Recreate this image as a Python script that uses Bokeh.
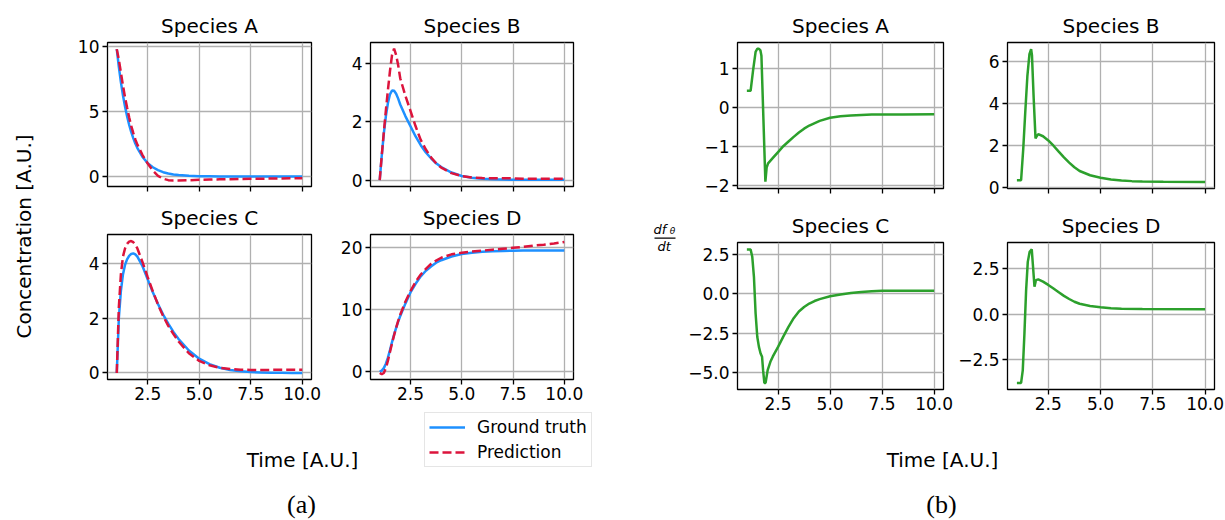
from bokeh.plotting import figure
from bokeh.models import (Range1d, FixedTicker, CustomJSTickFormatter, Label,
                          Legend, LegendItem, BoxAnnotation)
from bokeh.layouts import row, column
from bokeh.embed import file_html
from bokeh.resources import INLINE

FONT = "DejaVu Sans"
BLUE = "#1e90ff"
RED = "#dc143c"
GREEN = "#2ca02c"

# ---------------- data ----------------
TITLES = ["Species A", "Species B", "Species C", "Species D"]
X_LABEL = "Time [A.U.]"
Y_LABEL = "Concentration [A.U.]"
LEGEND_LABELS = ["Ground truth", "Prediction"]
CAPTIONS = ["(a)", "(b)"]
X_TICKS = [2.5, 5.0, 7.5, 10.0]

# (a) concentrations
T_CONC = [1.0, 1.1, 1.2, 1.3, 1.4, 1.5, 1.6, 1.7, 1.8, 1.9, 2.0, 2.25, 2.5, 2.75,
          3.0, 3.25, 3.5, 3.75, 4.0, 4.5, 5.0, 5.5, 6.0, 6.5, 7.0, 7.5, 8.0, 8.5,
          9.0, 9.5, 10.0]
A_TRUE = [9.80, 8.44, 7.26, 6.25, 5.38, 4.63, 3.98, 3.43, 2.95, 2.54, 2.19, 1.50, 1.03, 0.71,
          0.49, 0.33, 0.23, 0.16, 0.11, 0.05, 0.02, 0.01, 0.0, 0.0, 0.0, 0.0, 0.0, 0.0,
          0.0, 0.0, 0.0]
A_PRED = [9.80, 9.00, 8.00, 7.00, 6.10, 5.30, 4.55, 3.90, 3.35, 2.85, 2.45, 1.65, 1.00, 0.45,
          0.05, -0.17, -0.28, -0.31, -0.31, -0.29, -0.26, -0.24, -0.22, -0.21, -0.19, -0.18,
          -0.17, -0.16, -0.15, -0.14, -0.13]
B_TRUE = [0.0, 0.85, 1.60, 2.20, 2.65, 2.95, 3.08, 3.07, 2.97, 2.80, 2.60, 2.20, 1.85, 1.50,
          1.20, 0.95, 0.75, 0.58, 0.45, 0.26, 0.14, 0.08, 0.05, 0.03, 0.02, 0.01, 0.01, 0.01,
          0.01, 0.01, 0.01]
B_PRED = [0.0, 0.85, 1.65, 2.40, 3.10, 3.75, 4.30, 4.52, 4.30, 3.95, 3.50, 2.90, 2.38, 1.85,
          1.38, 1.05, 0.78, 0.58, 0.43, 0.24, 0.14, 0.09, 0.07, 0.06, 0.06, 0.06, 0.05, 0.05,
          0.05, 0.05, 0.05]
C_TRUE = [0.0, 2.00, 3.00, 3.60, 3.95, 4.15, 4.28, 4.35, 4.37, 4.33, 4.25, 3.90, 3.42, 2.95,
          2.52, 2.13, 1.80, 1.50, 1.24, 0.82, 0.52, 0.32, 0.19, 0.11, 0.06, 0.03, 0.02, 0.01,
          0.01, 0.0, 0.0]
C_PRED = [0.0, 2.40, 3.60, 4.25, 4.55, 4.72, 4.80, 4.82, 4.78, 4.68, 4.55, 4.05, 3.50, 2.98,
          2.50, 2.08, 1.72, 1.42, 1.15, 0.72, 0.44, 0.28, 0.19, 0.14, 0.12, 0.11, 0.11, 0.11,
          0.12, 0.12, 0.12]
D_TRUE = [0.0, 0.2, 0.6, 1.3, 2.3, 3.5, 4.8, 6.0, 7.1, 8.1, 9.0, 11.0, 12.8, 14.2,
          15.4, 16.3, 17.0, 17.6, 18.0, 18.6, 19.0, 19.2, 19.35, 19.45, 19.5, 19.53, 19.55,
          19.56, 19.57, 19.58, 19.58]
D_PRED = [-0.2, -0.4, -0.2, 0.6, 1.8, 3.2, 4.6, 5.9, 7.1, 8.2, 9.2, 11.3, 13.0, 14.5,
          15.7, 16.6, 17.4, 17.95, 18.4, 18.95, 19.2, 19.4, 19.55, 19.7, 19.85, 20.0, 20.15,
          20.35, 20.5, 20.7, 20.95]

# (b) derivative df_theta/dt
RA_T = [1.0, 1.18, 1.3, 1.42, 1.5, 1.58, 1.65, 1.7, 1.89, 1.95, 2.02, 2.25, 2.5, 2.75,
        3.0, 3.25, 3.5, 3.75, 4.0, 4.5, 5.0, 5.5, 6.0, 7.0, 8.5, 10.0]
RA_V = [0.42, 0.42, 0.95, 1.42, 1.50, 1.50, 1.46, 1.32, -1.91, -1.55, -1.44, -1.30, -1.15,
        -1.00, -0.88, -0.76, -0.65, -0.55, -0.47, -0.35, -0.27, -0.23, -0.21, -0.19,
        -0.185, -0.18]
RB_T = [1.0, 1.2, 1.3, 1.4, 1.5, 1.6, 1.68, 1.72, 1.8, 1.89, 1.93, 2.02, 2.25, 2.5, 2.75,
        3.0, 3.25, 3.5, 3.75, 4.0, 4.5, 5.0, 5.5, 6.0, 6.5, 7.0, 8.0, 10.0]
RB_V = [0.36, 0.36, 1.8, 3.6, 5.3, 6.35, 6.58, 6.3, 4.3, 2.35, 2.42, 2.55, 2.45, 2.25, 2.0,
        1.72, 1.45, 1.2, 0.98, 0.8, 0.6, 0.48, 0.4, 0.35, 0.32, 0.3, 0.285, 0.28]
RC_T = [1.0, 1.18, 1.26, 1.34, 1.42, 1.5, 1.58, 1.66, 1.73, 1.78, 1.84, 1.9, 2.0, 2.13, 2.25,
        2.5, 2.75, 3.0, 3.25, 3.5, 3.75, 4.0, 4.25, 4.5, 5.0, 5.5, 6.0, 6.5, 7.0, 7.5, 8.5,
        10.0]
RC_V = [2.82, 2.82, 2.35, 1.08, -1.25, -2.73, -3.37, -3.79, -4.0, -4.85, -5.66, -5.66, -4.85,
        -4.32, -3.98, -3.37, -2.72, -2.1, -1.55, -1.12, -0.84, -0.62, -0.46, -0.34, -0.16,
        -0.04, 0.05, 0.12, 0.16, 0.19, 0.2, 0.19]
RD_T = [1.0, 1.2, 1.28, 1.36, 1.44, 1.52, 1.61, 1.71, 1.76, 1.84, 1.91, 2.02, 2.25, 2.5,
        2.75, 3.0, 3.25, 3.5, 3.75, 4.0, 4.5, 5.0, 5.5, 6.0, 7.0, 10.0]
RD_V = [-3.76, -3.76, -3.07, -1.06, 1.31, 2.86, 3.41, 3.54, 2.77, 1.5, 1.86, 1.9, 1.78, 1.6,
        1.4, 1.2, 1.0, 0.83, 0.68, 0.57, 0.45, 0.38, 0.33, 0.3, 0.28, 0.27]


# ---------------- helpers ----------------
def make_panel(title, yr, yticks, ydigits, w, h, bl, br, bt, bb, xlabels):
    p = figure(width=w, height=h, x_range=Range1d(0.55, 10.45), y_range=Range1d(*yr),
               output_backend="svg", toolbar_location=None, title=title,
               min_border_left=bl, min_border_right=br, min_border_top=bt,
               min_border_bottom=bb)
    p.title.align = "center"
    p.title.text_font = FONT
    p.title.text_font_size = "20px"
    p.title.text_font_style = "normal"
    p.title.text_color = "black"
    p.title.standoff = 9
    p.outline_line_color = "black"
    p.outline_line_width = 1.3
    p.background_fill_color = "white"
    p.border_fill_color = "white"
    for ax in (p.xaxis[0], p.yaxis[0]):
        ax.axis_line_color = None
        ax.major_tick_in = 0
        ax.major_tick_out = 5
        ax.major_tick_line_width = 1.3
        ax.major_tick_line_color = "black"
        ax.minor_tick_line_color = None
        ax.major_label_text_font = FONT
        ax.major_label_text_font_size = "17px"
        ax.major_label_text_color = "black"
    p.xaxis.ticker = FixedTicker(ticks=X_TICKS)
    if xlabels:
        p.xaxis.formatter = CustomJSTickFormatter(code="return tick.toFixed(1);")
    else:
        p.xaxis.formatter = CustomJSTickFormatter(code="return '';")
    p.yaxis.ticker = FixedTicker(ticks=yticks)
    p.yaxis.formatter = CustomJSTickFormatter(
        code="return tick.toFixed(%d).replace('-', '\u2212');" % ydigits)
    p.xaxis.major_label_standoff = 2
    p.yaxis.major_label_standoff = 3
    p.grid.grid_line_color = "#b0b0b0"
    p.grid.grid_line_width = 1.3
    return p


def text_canvas(w, h):
    # ranges chosen so that the canvas maps 1 data unit to 1 pixel
    p = figure(width=w, height=h, x_range=Range1d(0, w), y_range=Range1d(0, h),
               min_border=0, x_axis_location=None, y_axis_location=None,
               toolbar_location=None, output_backend="svg")
    p.grid.visible = False
    p.outline_line_color = None
    p.background_fill_color = "white"
    p.border_fill_color = "white"
    return p


def add_text(p, x, y, text, size, font=FONT, style="normal", angle=0, align="center"):
    p.add_layout(Label(x=x, y=y, text=text, angle=angle, angle_units="deg",
                       text_align=align, text_baseline="middle", text_font=font,
                       text_font_style=style, text_font_size=size, text_color="black"))


# ---------------- (a) ----------------
A_l = make_panel(TITLES[0], (-0.77, 10.31), [0, 5, 10], 0, 270, 195, 47, 19, 42, 9, False)
B_l = make_panel(TITLES[1], (-0.22, 4.73), [0, 2, 4], 0, 270, 195, 40, 27, 42, 9, False)
C_l = make_panel(TITLES[2], (-0.24, 5.06), [0, 2, 4], 0, 270, 215, 47, 19, 39, 31, True)
D_l = make_panel(TITLES[3], (-1.24, 22.15), [0, 10, 20], 0, 270, 215, 40, 27, 39, 31, True)

for p, yt, yp in ((A_l, A_TRUE, A_PRED), (B_l, B_TRUE, B_PRED),
                  (C_l, C_TRUE, C_PRED), (D_l, D_TRUE, D_PRED)):
    p.line(T_CONC, yt, line_color=BLUE, line_width=2.5)
    p.line(T_CONC, yp, line_color=RED, line_width=2.5, line_dash="9 4")

# ---------------- (b) ----------------
A_r = make_panel(TITLES[0], (-2.085, 1.66), [-2, -1, 0, 1], 0, 274, 197, 57, 11, 42, 9, False)
B_r = make_panel(TITLES[1], (-0.03, 6.9), [0, 2, 4, 6], 0, 271, 197, 53, 11, 42, 9, False)
C_r = make_panel(TITLES[2], (-6.08, 3.26), [-5, -2.5, 0, 2.5], 1, 274, 223, 57, 11, 45, 31, True)
D_r = make_panel(TITLES[3], (-4.12, 3.92), [-2.5, 0, 2.5], 1, 271, 223, 53, 11, 45, 31, True)

for p, tt, vv in ((A_r, RA_T, RA_V), (B_r, RB_T, RB_V), (C_r, RC_T, RC_V), (D_r, RD_T, RD_V)):
    p.line(tt, vv, line_color=GREEN, line_width=2.5)

# df_theta / dt label in its own narrow canvas (x 600..680 of the page)
dfdt = text_canvas(80, 520)
add_text(dfdt, 53, 291.2, "df", "13px", style="italic", align="left")
add_text(dfdt, 69.3, 289.3, "\u03b8", "9px", style="italic", align="left")
dfdt.add_layout(BoxAnnotation(left=54, right=75, bottom=281.7, top=282.9,
                              fill_color="black", fill_alpha=1.0, line_color=None))
add_text(dfdt, 57, 274.5, "dt", "13px", style="italic", align="left")

# ---------------- side / bottom text canvases ----------------
conc = text_canvas(60, 520)
add_text(conc, 23, 284, Y_LABEL, "20px", angle=90)

botA = text_canvas(540, 110)
add_text(botA, 242, 61, X_LABEL, "20px")
add_text(botA, 241, 16, CAPTIONS[0], "26px", font="Liberation Serif")

# legend: renderers use the data of panel D, which lies outside this canvas' frame
botA.extra_x_ranges = {"off": Range1d(-2000, -1460)}
r_gt = botA.line(T_CONC, D_TRUE, line_color=BLUE, line_width=2.5, x_range_name="off")
r_pr = botA.line(T_CONC, D_PRED, line_color=RED, line_width=2.5, line_dash="9 4",
                 x_range_name="off")
legend = Legend(items=[LegendItem(label=LEGEND_LABELS[0], renderers=[r_gt]),
                       LegendItem(label=LEGEND_LABELS[1], renderers=[r_pr])],
                location=(364, 53), margin=0, padding=4, spacing=5,
                glyph_width=36, glyph_height=20, label_height=20, label_standoff=12,
                label_text_font=FONT, label_text_font_size="17px", label_text_color="black",
                border_line_color="#cccccc", border_line_width=1.2,
                background_fill_color="white", background_fill_alpha=1.0)
botA.add_layout(legend)

botB = text_canvas(545, 100)
add_text(botB, 262, 61, X_LABEL, "20px")
add_text(botB, 261, 16, CAPTIONS[1], "26px", font="Liberation Serif")

layout = row(conc,
             column(row(A_l, B_l), row(C_l, D_l), botA),
             dfdt,
             column(row(A_r, B_r), row(C_r, D_r), botB))

open("out.html", "w").write(file_html(layout, INLINE))
